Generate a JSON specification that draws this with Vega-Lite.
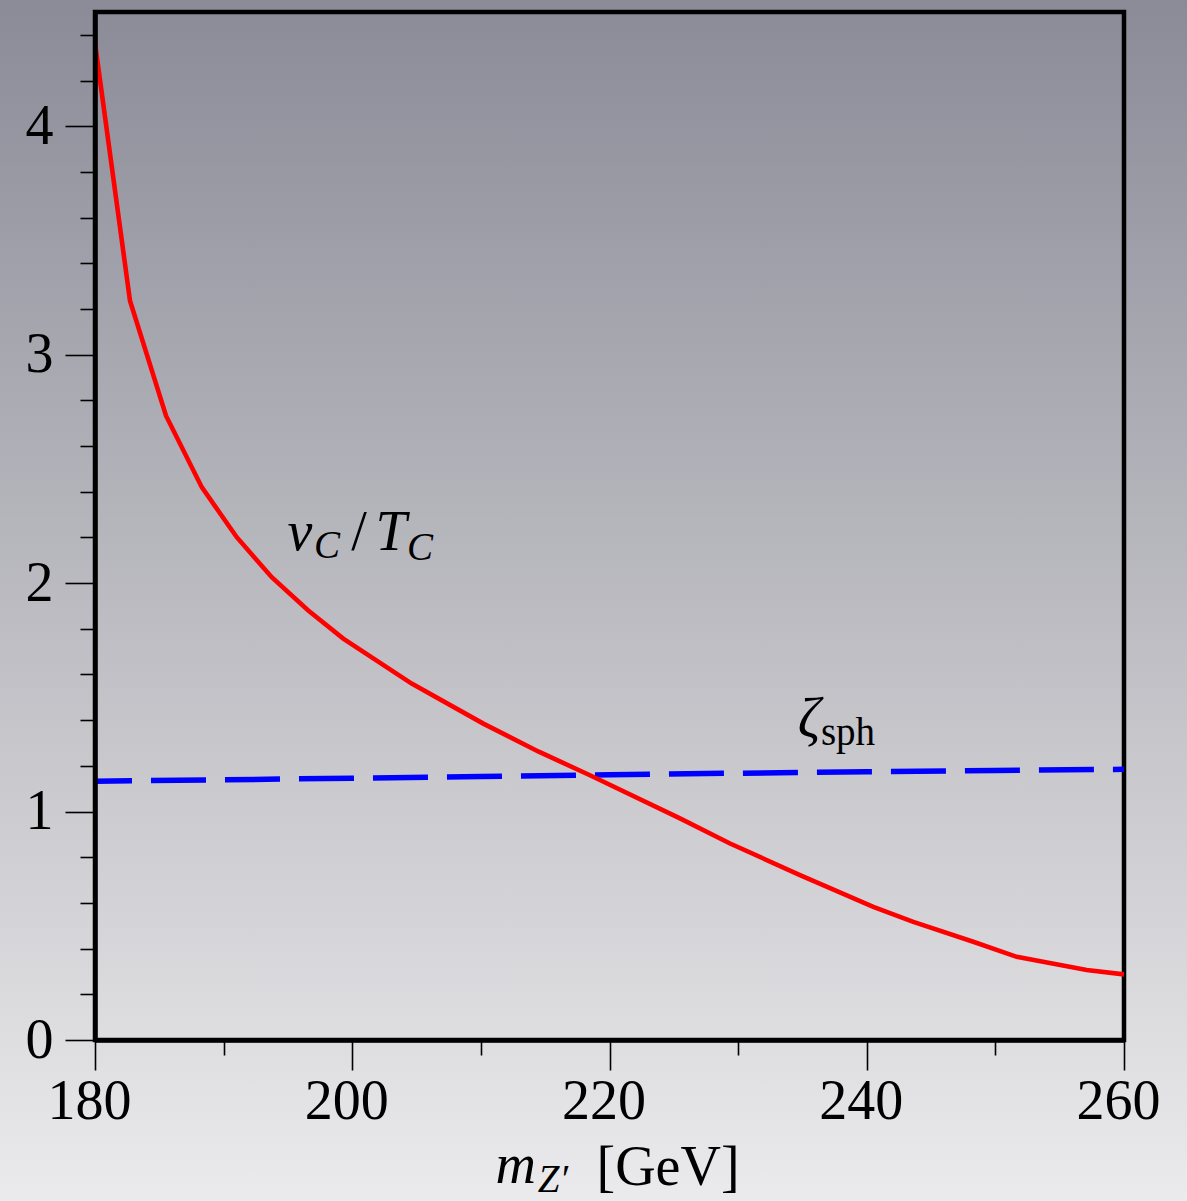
{
  "$schema": "https://vega.github.io/schema/vega-lite/v6.json",
  "autosize": {"type": "none"},
  "padding": {"left": 95, "top": 12, "right": 63, "bottom": 161},
  "width": 1029,
  "height": 1028,
  "background": "#c4c4c9",
  "config": {
    "view": {"stroke": null, "fill": null},
    "axis": {
      "grid": false,
      "zindex": 1,
      "domainColor": "black",
      "domainWidth": 4.5,
      "tickColor": "black",
      "tickWidth": 1.6,
      "labelFont": "Liberation Serif",
      "labelFontSize": 56,
      "labelColor": "black",
      "labelOverlap": false,
      "labelBound": false,
      "labelFlush": false,
      "title": null
    }
  },
  "datasets": {
    "bg": [{"m": 172.5, "m2": 265.1, "v": -0.72, "v2": 4.56}],
    "frame": [{"m": 180, "m2": 260, "v": 0, "v2": 4.5}],
    "red": [
      {"m": 180.0, "v": 4.364},
      {"m": 182.72, "v": 3.236},
      {"m": 185.52, "v": 2.733},
      {"m": 188.30, "v": 2.420},
      {"m": 191.02, "v": 2.201},
      {"m": 193.74, "v": 2.026},
      {"m": 196.58, "v": 1.880},
      {"m": 199.30, "v": 1.757},
      {"m": 204.62, "v": 1.560},
      {"m": 210.19, "v": 1.385},
      {"m": 214.5, "v": 1.262},
      {"m": 218.48, "v": 1.159},
      {"m": 225.48, "v": 0.970},
      {"m": 229.37, "v": 0.860},
      {"m": 234.81, "v": 0.722},
      {"m": 240.51, "v": 0.583},
      {"m": 243.62, "v": 0.517},
      {"m": 248.28, "v": 0.430},
      {"m": 251.66, "v": 0.364},
      {"m": 257.10, "v": 0.306},
      {"m": 260.0, "v": 0.287}
    ],
    "blue": [
      {"m": 180.0, "v": 1.133},
      {"m": 190.0, "v": 1.139},
      {"m": 200.0, "v": 1.146},
      {"m": 210.0, "v": 1.153},
      {"m": 220.0, "v": 1.161},
      {"m": 230.0, "v": 1.168},
      {"m": 240.0, "v": 1.174},
      {"m": 250.0, "v": 1.180},
      {"m": 260.0, "v": 1.185}
    ],
    "bigItalic": [
      {"m": 195.94, "v": 2.143, "t": "v"},
      {"m": 203.01, "v": 2.143, "t": "T"},
      {"m": 235.51, "v": 1.325, "t": "ζ"},
      {"m": 212.7, "v": -0.6255, "t": "m"}
    ],
    "smallItalic": [
      {"m": 198.04, "v": 2.108, "t": "C"},
      {"m": 205.27, "v": 2.100, "t": "C"},
      {"m": 215.6, "v": -0.665, "t": "Z′"}
    ],
    "bigRoman": [
      {"m": 200.52, "v": 2.143, "t": "/"},
      {"m": 224.55, "v": -0.634, "t": "[GeV]"}
    ],
    "smallRoman": [
      {"m": 238.54, "v": 1.290, "t": "sph"}
    ]
  },
  "encoding": {
    "x": {
      "field": "m",
      "type": "quantitative",
      "scale": {"domain": [180, 260], "nice": false, "zero": false},
      "axis": {
        "zindex": 1,
        "values": [180, 190, 200, 210, 220, 230, 240, 250, 260],
        "format": "d",
        "tickSize": {"condition": {"test": "datum.value % 20 === 0", "value": 30}, "value": 15},
        "labelExpr": "datum.value % 20 === 0 ? datum.label : ''",
        "labelPadding": 4,
        "labelOffset": -6
      }
    },
    "y": {
      "field": "v",
      "type": "quantitative",
      "scale": {"domain": [0, 4.5], "nice": false, "zero": false},
      "axis": {
        "zindex": 1,
        "values": [0, 0.2, 0.4, 0.6, 0.8, 1, 1.2, 1.4, 1.6, 1.8, 2, 2.2, 2.4, 2.6, 2.8, 3, 3.2, 3.4, 3.6, 3.8, 4, 4.2, 4.4],
        "format": "~g",
        "tickSize": {"condition": {"test": "abs(datum.value - round(datum.value)) < 0.001", "value": 30}, "value": 15},
        "labelExpr": "abs(datum.value - round(datum.value)) < 0.001 ? datum.label : ''",
        "labelPadding": 12
      }
    }
  },
  "layer": [
    {
      "data": {"name": "bg"},
      "mark": {
        "type": "rect",
        "clip": false,
        "fill": {
          "gradient": "linear", "x1": 0, "y1": 0, "x2": 0, "y2": 1,
          "stops": [
            {"offset": 0, "color": "#8b8b98"},
            {"offset": 0.5, "color": "#bbbbc1"},
            {"offset": 1, "color": "#ebebed"}
          ]
        }
      },
      "encoding": {"x2": {"field": "m2"}, "y2": {"field": "v2"}}
    },
    {
      "data": {"name": "frame"},
      "mark": {"type": "rect", "fill": null, "fillOpacity": 0, "stroke": "black", "strokeWidth": 4.5},
      "encoding": {"x2": {"field": "m2"}, "y2": {"field": "v2"}}
    },
    {
      "data": {"name": "blue"},
      "mark": {"type": "line", "color": "#0000ff", "strokeWidth": 5.5, "strokeDash": [55, 19], "strokeDashOffset": 18, "clip": true}
    },
    {
      "data": {"name": "red"},
      "mark": {"type": "line", "color": "#ff0000", "strokeWidth": 4.6, "clip": true}
    },
    {
      "data": {"name": "bigItalic"},
      "mark": {"type": "text", "font": "Liberation Serif", "fontStyle": "italic", "fontSize": 56, "baseline": "alphabetic", "align": "center", "color": "black"},
      "encoding": {"text": {"field": "t"}}
    },
    {
      "data": {"name": "smallItalic"},
      "mark": {"type": "text", "font": "Liberation Serif", "fontStyle": "italic", "fontSize": 39, "baseline": "alphabetic", "align": "center", "color": "black"},
      "encoding": {"text": {"field": "t"}}
    },
    {
      "data": {"name": "bigRoman"},
      "mark": {"type": "text", "font": "Liberation Serif", "fontSize": 56, "baseline": "alphabetic", "align": "center", "color": "black"},
      "encoding": {"text": {"field": "t"}}
    },
    {
      "data": {"name": "smallRoman"},
      "mark": {"type": "text", "font": "Liberation Serif", "fontSize": 39, "baseline": "alphabetic", "align": "center", "color": "black"},
      "encoding": {"text": {"field": "t"}}
    }
  ]
}
